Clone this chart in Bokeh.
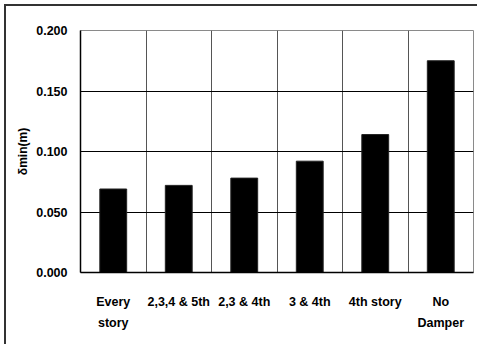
from bokeh.plotting import figure
from bokeh.models import Range1d, FixedTicker, NumeralTickFormatter
from bokeh.embed import file_html
from bokeh.resources import INLINE

categories = ["Every\nstory", "2,3,4 & 5th", "2,3 & 4th", "3 & 4th", "4th story", "No\nDamper"]
values = [0.069, 0.072, 0.078, 0.092, 0.114, 0.175]
y_ticks = [0.0, 0.05, 0.10, 0.15, 0.20]
y_label = "δmin(m)"

FONT = "'Liberation Sans', Arial, sans-serif"

xs = [i + 0.5 for i in range(len(categories))]

p = figure(width=471, height=338, output_backend="svg", toolbar_location=None,
           x_range=Range1d(0, len(categories)), y_range=Range1d(0, 0.2),
           frame_width=393, frame_height=242,
           min_border_left=74, min_border_right=4, min_border_top=24, min_border_bottom=72)
p.styles = {"margin-left": "4px", "margin-top": "4px",
            "border-left": "2px solid #333333", "border-top": "2px solid #333333"}

p.vbar(x=xs, top=values, width=0.41, fill_color="black", line_color="#222222", line_width=1)

p.background_fill_color = "white"
p.border_fill_color = "white"
p.outline_line_color = "#8a8a8a"
p.outline_line_width = 1

# x axis
p.xaxis.ticker = FixedTicker(ticks=xs)
p.xaxis.major_label_overrides = {x: c for x, c in zip(xs, categories)}
p.xaxis.major_tick_line_color = None
p.xaxis.minor_tick_line_color = None
p.xaxis.axis_line_color = "black"
p.xaxis.axis_line_width = 1.5
p.xaxis.major_label_text_font = FONT
p.xaxis.major_label_text_font_style = "bold"
p.xaxis.major_label_text_font_size = "12.5px"
p.xaxis.major_label_text_color = "black"
p.xaxis.major_label_text_line_height = 1.5
p.xaxis.major_label_standoff = 16

# y axis
p.yaxis.ticker = FixedTicker(ticks=y_ticks)
p.yaxis.formatter = NumeralTickFormatter(format="0.000")
p.yaxis.major_tick_out = 0
p.yaxis.major_tick_in = 0
p.yaxis.minor_tick_line_color = None
p.yaxis.axis_line_color = "black"
p.yaxis.axis_line_width = 1.5
p.yaxis.major_label_text_font = FONT
p.yaxis.major_label_text_font_style = "bold"
p.yaxis.major_label_text_font_size = "12.5px"
p.yaxis.major_label_text_color = "black"
p.yaxis.major_label_standoff = 13
p.yaxis.axis_label = y_label
p.yaxis.axis_label_text_font = FONT
p.yaxis.axis_label_text_font_style = "bold"
p.yaxis.axis_label_text_font_size = "12px"
p.yaxis.axis_label_text_color = "black"
p.yaxis.axis_label_standoff = 3

# grids
p.xgrid.ticker = FixedTicker(ticks=list(range(1, len(categories))))
p.xgrid.grid_line_color = "#555555"
p.xgrid.grid_line_width = 1
p.ygrid.ticker = FixedTicker(ticks=y_ticks[1:-1])
p.ygrid.grid_line_color = "black"
p.ygrid.grid_line_width = 1

open("out.html", "w").write(file_html(p, INLINE))
